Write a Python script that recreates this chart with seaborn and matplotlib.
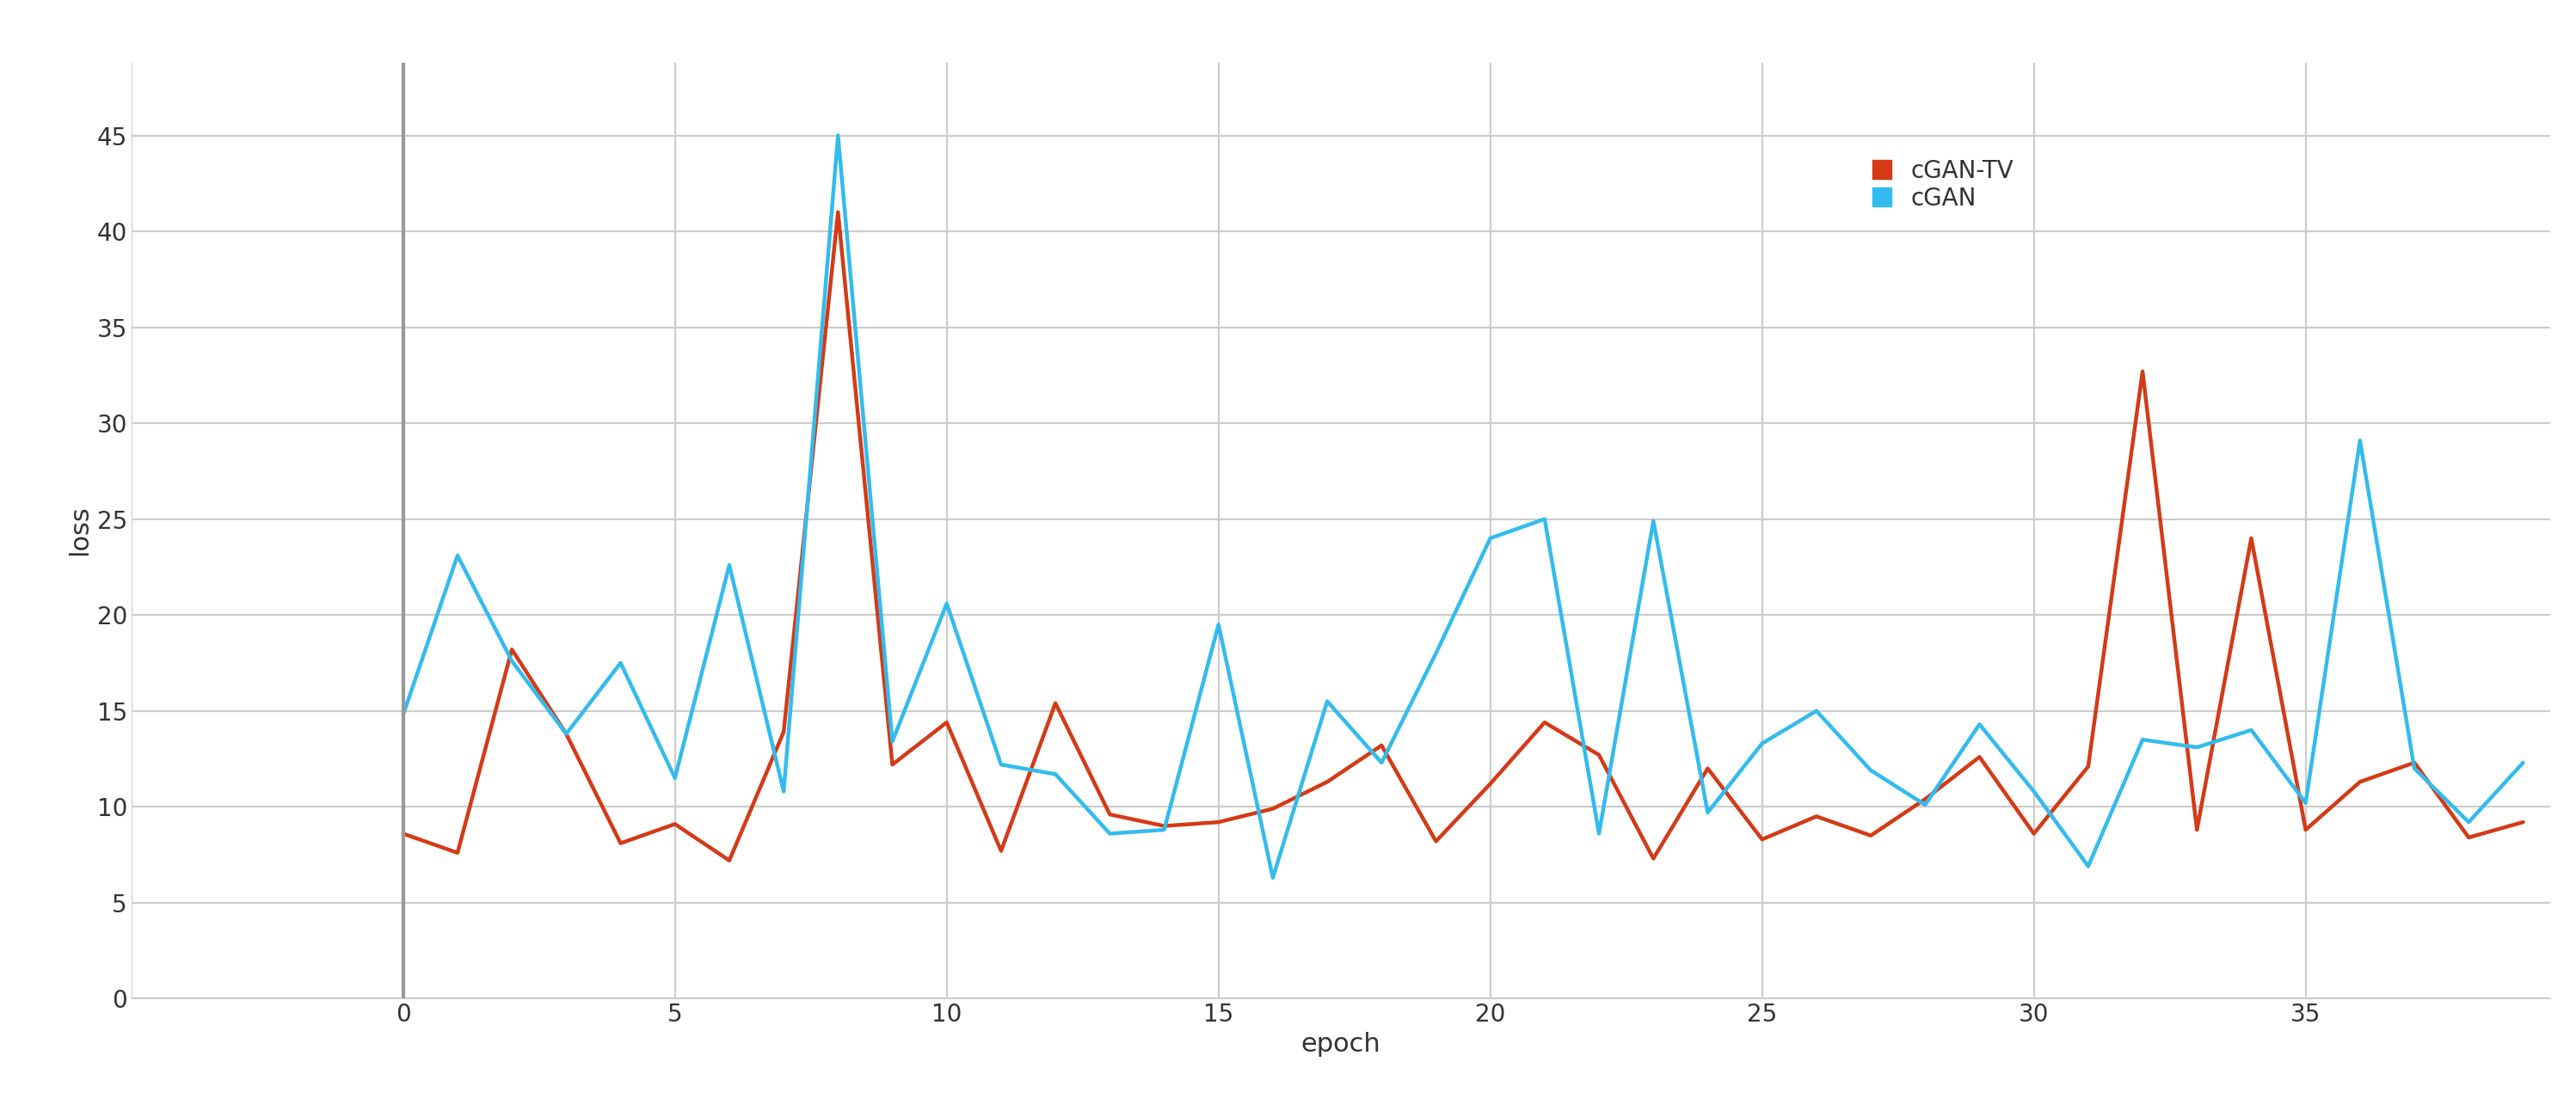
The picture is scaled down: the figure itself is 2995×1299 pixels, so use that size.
import numpy as np
import pandas as pd
import matplotlib
matplotlib.use('Agg')
import matplotlib.pyplot as plt
import seaborn as sns
from matplotlib.lines import Line2D

epochs = list(range(40))
cgan_tv = [8.6, 7.6, 18.2, 13.8, 8.1, 9.1, 7.2, 13.9, 41.0, 12.2,
           14.4, 7.7, 15.4, 9.6, 9.0, 9.2, 9.9, 11.3, 13.2, 8.2,
           11.2, 14.4, 12.7, 7.3, 12.0, 8.3, 9.5, 8.5, 10.4, 12.6,
           8.6, 12.1, 32.7, 8.8, 24.0, 8.8, 11.3, 12.3, 8.4, 9.2]
cgan = [14.8, 23.1, 17.6, 13.8, 17.5, 11.5, 22.6, 10.8, 45.0, 13.4,
        20.6, 12.2, 11.7, 8.6, 8.8, 19.5, 6.3, 15.5, 12.3, 18.0,
        24.0, 25.0, 8.6, 24.9, 9.7, 13.3, 15.0, 11.9, 10.1, 14.3,
        10.8, 6.9, 13.5, 13.1, 14.0, 10.2, 29.1, 12.0, 9.2, 12.3]
series_names = ['cGAN-TV', 'cGAN']
colors = {'cGAN-TV': '#d43a16', 'cGAN': '#33bbee'}

df = pd.DataFrame({'epoch': epochs * 2,
                   'loss': cgan_tv + cgan,
                   'model': ['cGAN-TV'] * 40 + ['cGAN'] * 40})

sns.set_style('white')
fig = plt.figure(figsize=(29.95, 12.99), dpi=100)
ax = fig.add_axes([0.051, 0.106, 0.939, 0.838])
sns.lineplot(data=df, x='epoch', y='loss', hue='model', palette=colors,
             linewidth=3.2, ax=ax, legend=False)

ax.set_xlim(-5, 39.5)
ax.set_ylim(0, 48.8)
ax.set_xticks(range(0, 40, 5))
ax.set_yticks(range(0, 50, 5))
ax.grid(True, color='#cccccc', linewidth=1.6)
ax.axvline(0, color='#999999', linewidth=3)
for s in ['top', 'right']:
    ax.spines[s].set_visible(False)
ax.spines['left'].set_color('#cccccc')
ax.spines['bottom'].set_color('#cccccc')
ax.tick_params(axis='both', labelsize=20, colors='#333333', length=0)
ax.set_xlabel('epoch', fontsize=22, color='#333333')
ax.set_ylabel('loss', fontsize=22, color='#333333')

handles = [Line2D([], [], marker='s', linestyle='none', markersize=16,
                  color=colors[n]) for n in series_names]
ax.legend(handles, series_names, loc='upper left', bbox_to_anchor=(0.705, 0.92),
          frameon=False, fontsize=20, handletextpad=0.2, labelspacing=0.15,
          labelcolor='#333333')

fig.savefig('out.png', dpi=100)
